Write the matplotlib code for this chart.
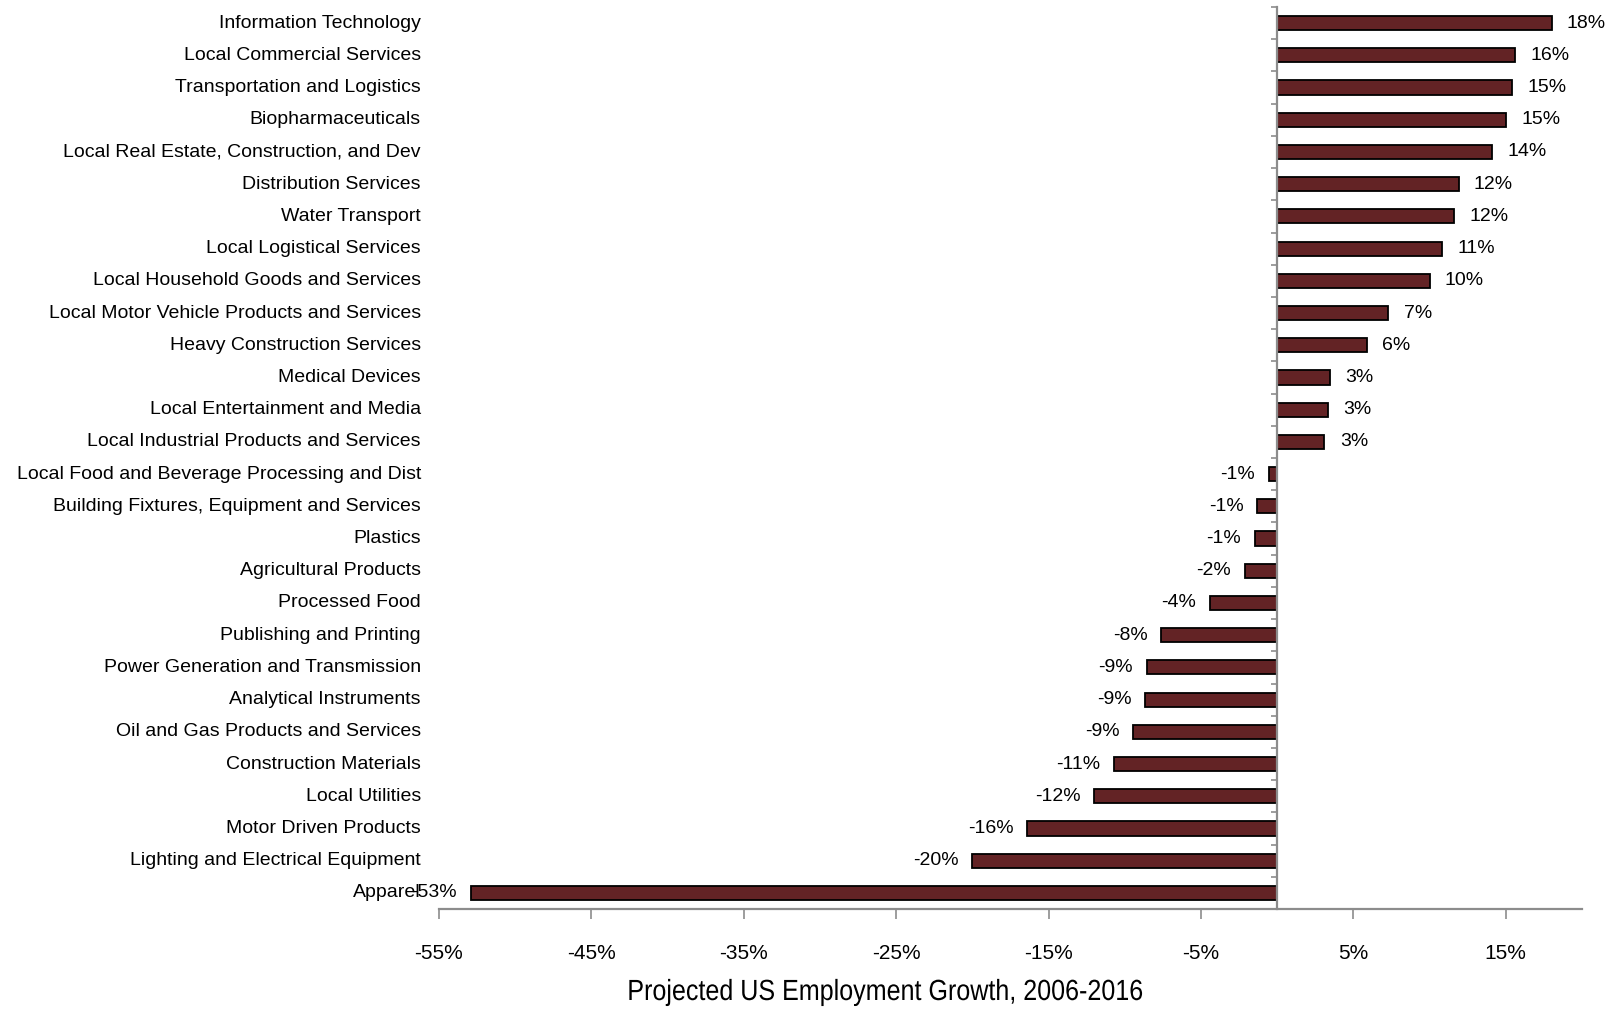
import matplotlib
matplotlib.use("Agg")
import matplotlib.pyplot as plt
from matplotlib.patheffects import AbstractPathEffect
from matplotlib.transforms import Affine2D

categories = [
    "Information Technology",
    "Local Commercial Services",
    "Transportation and Logistics",
    "Biopharmaceuticals",
    "Local Real Estate, Construction, and Dev",
    "Distribution Services",
    "Water Transport",
    "Local Logistical Services",
    "Local Household Goods and Services",
    "Local Motor Vehicle Products and Services",
    "Heavy Construction Services",
    "Medical Devices",
    "Local Entertainment and Media",
    "Local Industrial Products and Services",
    "Local Food and Beverage Processing and Dist",
    "Building Fixtures, Equipment and Services",
    "Plastics",
    "Agricultural Products",
    "Processed Food",
    "Publishing and Printing",
    "Power Generation and Transmission",
    "Analytical Instruments",
    "Oil and Gas Products and Services",
    "Construction Materials",
    "Local Utilities",
    "Motor Driven Products",
    "Lighting and Electrical Equipment",
    "Apparel",
]
growth = [18.0, 15.6, 15.4, 15.0, 14.1, 11.9, 11.6, 10.8, 10.0, 7.3, 5.9, 3.45,
          3.35, 3.1, -0.55, -1.3, -1.45, -2.1, -4.4, -7.6, -8.55, -8.65, -9.45,
          -10.7, -12.0, -16.4, -20.0, -52.9]
xticks = [-55, -45, -35, -25, -15, -5, 5, 15]
xtick_labels = [f"{t}%" for t in xticks]
title = "Projected US Employment Growth, 2006-2016"


class Condense(AbstractPathEffect):
    """Squeeze text horizontally around a given display x (narrow-font look)."""
    def __init__(self, cx, sx):
        super().__init__()
        self.cx = cx
        self.sx = sx

    def draw_path(self, renderer, gc, tpath, affine, rgbFace=None):
        t = affine + Affine2D().translate(-self.cx, 0).scale(self.sx, 1).translate(self.cx, 0)
        renderer.draw_path(gc, tpath, t, rgbFace)


plt.rcParams['font.family'] = ['Liberation Sans', 'DejaVu Sans']

W, H = 1606, 1009
fig = plt.figure(figsize=(W / 100, H / 100), dpi=100)
ax = fig.add_axes([439/W, 1 - 909/H, (1582-439)/W, (909-7)/H])

n = len(categories)
ypos = list(range(n))
ax.barh(ypos, growth, height=0.44, color="#632325", edgecolor="black", linewidth=1.3, zorder=3)

ax.set_xlim(-55, 20)
ax.set_ylim(n - 0.5, -0.5)

for s in ("top", "right"):
    ax.spines[s].set_visible(False)
ax.spines['left'].set_position(('data', 0))
ax.spines['left'].set_color("#8c8c8c")
ax.spines['left'].set_linewidth(1.6)
ax.spines['left'].set_zorder(4)
ax.spines['bottom'].set_color("#8c8c8c")
ax.spines['bottom'].set_linewidth(1.6)

ax.set_yticks([i - 0.5 for i in range(n + 1)])
ax.set_yticklabels([])
ax.tick_params(axis='y', direction='out', length=4, width=1.2, color="#8c8c8c")

ax.set_xticks(xticks)
ax.set_xticklabels(xtick_labels, fontsize=15)
ax.tick_params(axis='x', direction='out', length=7, width=1.2, color="#8c8c8c", pad=18)

for i, c in enumerate(categories):
    ax.annotate(c, xy=(0, i), xycoords=('axes fraction', 'data'), xytext=(-13, 0),
                textcoords='offset points', ha='right', va='center', fontsize=14)

for i, v in enumerate(growth):
    off = 11 if v >= 0 else -10
    ax.annotate(f"{v:.0f}%", xy=(v, i), xytext=(off, 0), textcoords='offset points',
                ha='left' if v >= 0 else 'right', va='center', fontsize=14,
                annotation_clip=False)

cx = 885
fig.text(cx / W, 1 - 992 / H, title, ha='center', va='center', fontsize=21,
         path_effects=[Condense(cx, 0.86)])

fig.savefig("out.png", dpi=100)
